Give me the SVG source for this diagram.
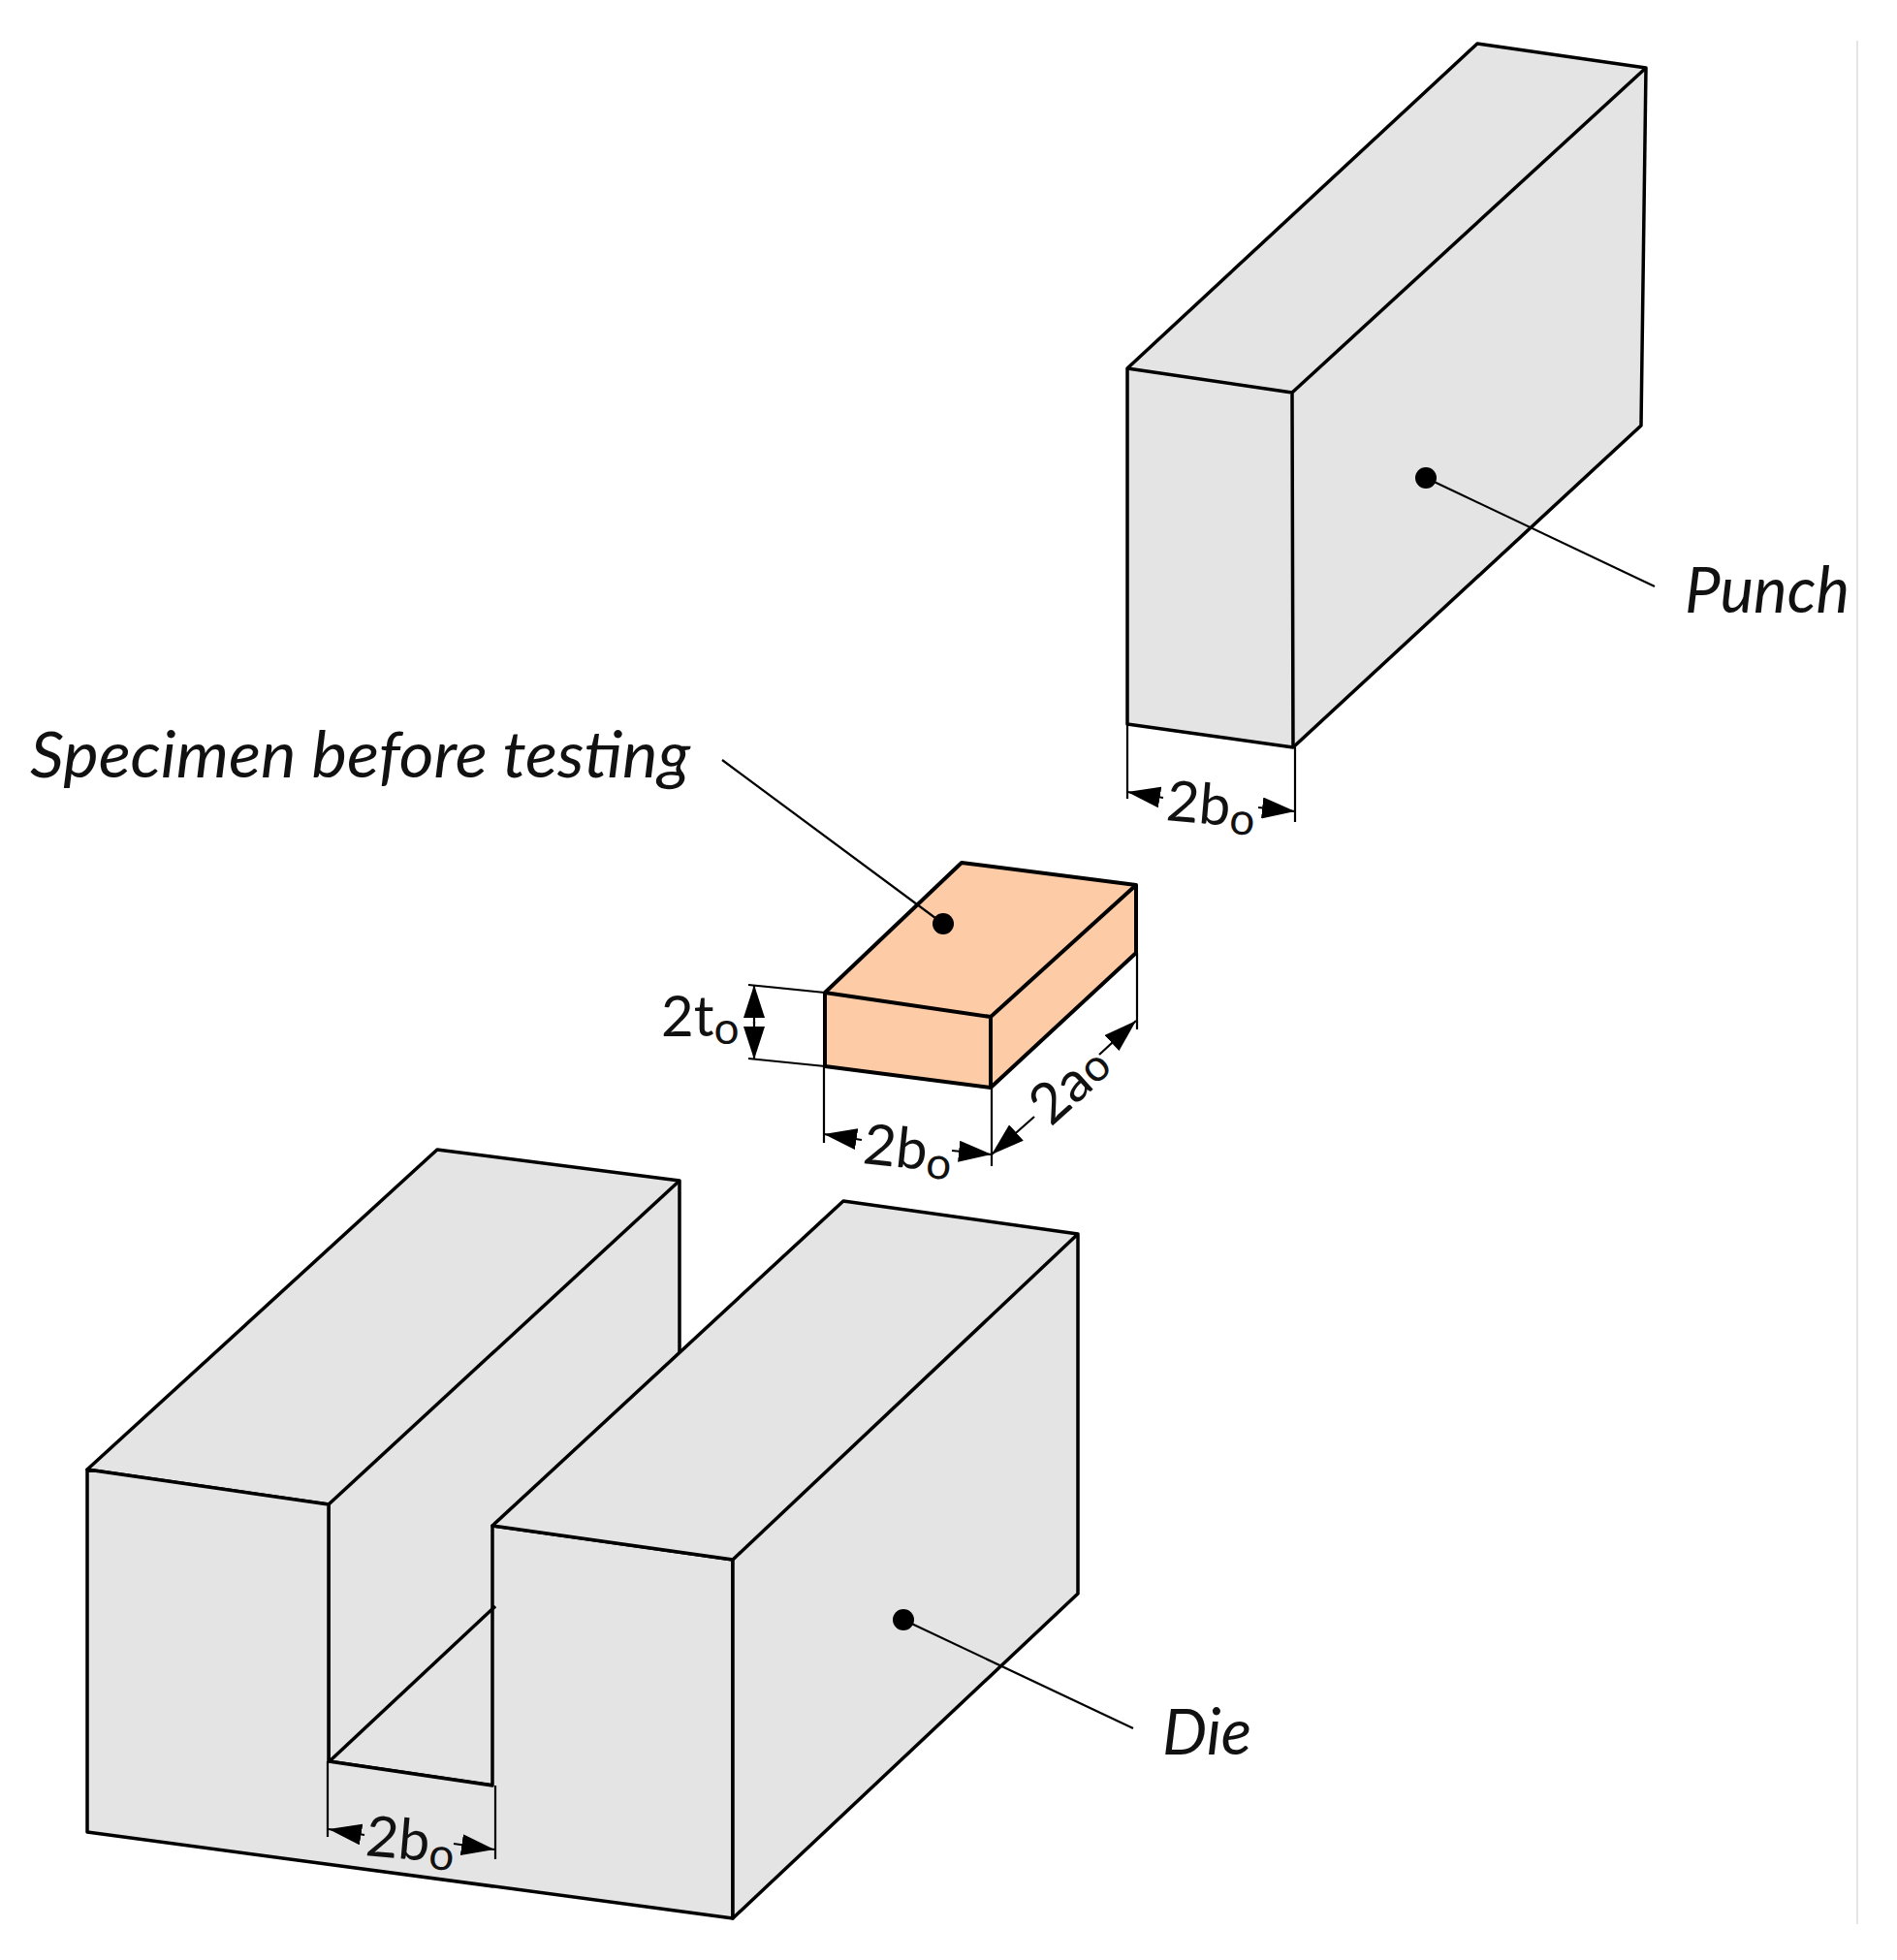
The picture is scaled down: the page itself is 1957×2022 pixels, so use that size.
<svg xmlns="http://www.w3.org/2000/svg" width="1957" height="2022" viewBox="0 0 1957 2022">
<defs>
<marker id="ah" viewBox="0 0 34 22" refX="34" refY="11" markerWidth="34" markerHeight="22" markerUnits="userSpaceOnUse" orient="auto"><path d="M0 0L34 11L0 22Z" fill="#000"/></marker>
</defs>
<style>
.g{fill:#e4e4e4;stroke:#000;stroke-width:3.5;stroke-linejoin:round}
.s{fill:#fdcba6;stroke:#000;stroke-width:4;stroke-linejoin:round}
.l{fill:none;stroke:#000;stroke-width:2.2}
.a{fill:none;stroke:#000;stroke-width:2.2;marker-end:url(#ah)}
.t{font-family:Lato,"Open Sans",sans-serif;font-size:58px;fill:#111}
.i{font-style:italic;font-size:66px}
.o{font-size:46px}
</style>
<rect width="1957" height="2022" fill="#fff"/>
<line x1="1916" y1="42" x2="1916" y2="1985" stroke="#dcdcdc" stroke-width="1.5"/>

<g id="punch">
<path class="g" d="M1163 380L1524 45L1698 70L1693 439L1334 771L1163 747Z"/>
<path class="g" style="fill:none" d="M1163 380L1333 405L1698 70M1333 405L1334 771"/>
</g>

<g id="die">
<path class="g" d="M90 1516L451 1186L701 1218L701 1396L510 1574L510 1842L339 1817L339 1552Z"/>
<path class="g" style="fill:none" d="M339 1552L701 1218"/>
<path class="g" d="M90 1516L339 1552L339 1817L508 1842L508 1574L756 1609L756 1979L90 1890Z"/>
<path class="g" d="M508 1574L870 1239L1112 1273L1112 1644L756 1979L756 1609Z"/>
<path class="g" style="fill:none" d="M756 1609L1112 1273"/>
<path class="g" style="fill:none" d="M341 1816L511 1657"/>
</g>

<g id="specimen">
<path class="s" d="M851 1024L992 890L1172 913L1172 983L1022 1122L851 1100Z"/>
<path class="s" style="fill:none" d="M851 1024L1022 1049L1172 913M1022 1049L1022 1122"/>
</g>

<g id="connectors">
<g id="leaders">
<circle cx="1471" cy="493" r="11"/>
<line class="l" x1="1471" y1="493" x2="1707" y2="605"/>
<circle cx="973" cy="953" r="11"/>
<line class="l" x1="973" y1="953" x2="745" y2="784"/>
<circle cx="932" cy="1671" r="11"/>
<line class="l" x1="932" y1="1671" x2="1169" y2="1783"/>
</g>
<g id="dim-punch">
<path class="l" d="M1163 747V824M1336 771V848"/>
<line class="a" x1="1200" y1="823" x2="1163" y2="817"/>
<line class="a" x1="1298" y1="833" x2="1336" y2="837"/>
</g>
<g id="dim-specimen">
<path class="l" d="M772 1016L851 1024M772 1092L851 1100M850 1100V1179M1023 1122V1203M1173 983V1062"/>
<line class="a" x1="778" y1="1056" x2="778" y2="1016"/>
<line class="a" x1="778" y1="1054" x2="778" y2="1093"/>
<line class="a" x1="889" y1="1176" x2="850" y2="1170"/>
<line class="a" x1="982" y1="1187" x2="1023" y2="1191"/>
<line class="a" x1="1067" y1="1152" x2="1023" y2="1191"/>
<line class="a" x1="1134" y1="1088" x2="1172" y2="1053"/>
</g>
<g id="dim-die">
<path class="l" d="M338 1817V1895M511 1842V1918"/>
<line class="a" x1="376" y1="1893" x2="339" y2="1887"/>
<line class="a" x1="468" y1="1902" x2="510" y2="1908"/>
</g>
</g>

<g id="labels">
<text class="t i" x="1738" y="632" textLength="170" lengthAdjust="spacingAndGlyphs">Punch</text>
<text class="t i" x="31" y="802" textLength="681" lengthAdjust="spacingAndGlyphs">Specimen before testing</text>
<text class="t i" x="1199" y="1810" textLength="92" lengthAdjust="spacingAndGlyphs">Die</text>
<text class="t" x="1202" y="846" transform="rotate(5 1202 846)">2b<tspan class="o" dy="8">o</tspan></text>
<text class="t" x="682" y="1069">2t<tspan class="o" dy="8">o</tspan></text>
<text class="t" x="889" y="1200" transform="rotate(6 889 1200)">2b<tspan class="o" dy="8">o</tspan></text>
<text class="t" x="1084" y="1163" transform="rotate(-42 1084 1163)">2a<tspan class="o" dy="-1">o</tspan></text>
<text class="t" x="376" y="1914" transform="rotate(5 376 1914)">2b<tspan class="o" dy="8">o</tspan></text>
</g>
</svg>
